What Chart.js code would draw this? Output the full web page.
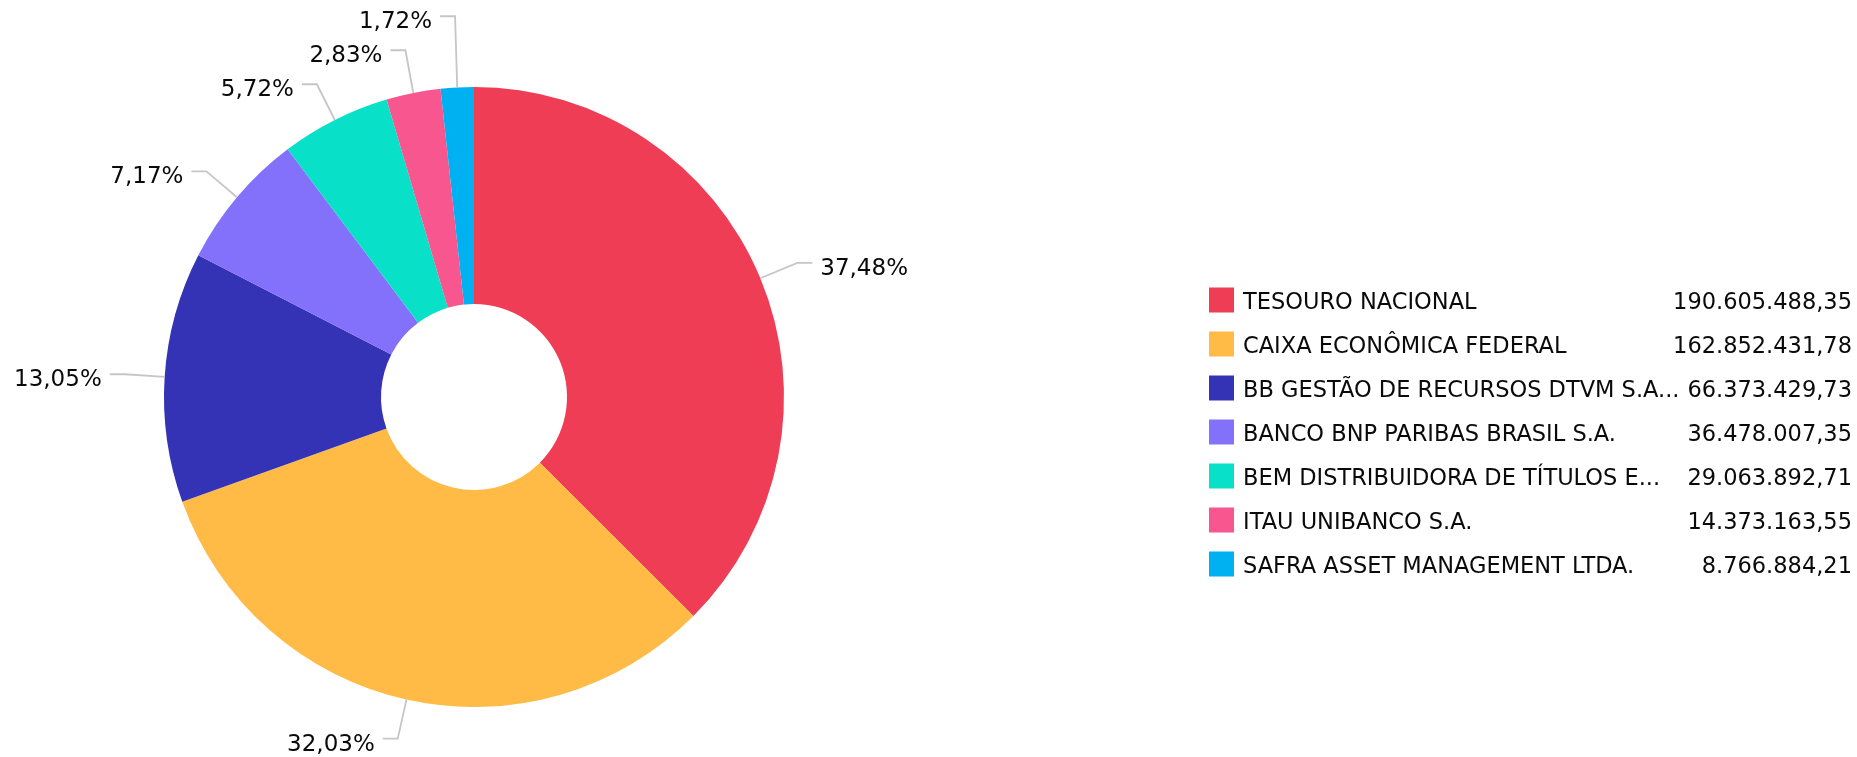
<!DOCTYPE html>
<html>
<head>
<meta charset="utf-8">
<script src="https://cdn.jsdelivr.net/npm/chart.js@4.4.1/dist/chart.umd.min.js"></script>
<style>
  html, body { margin: 0; padding: 0; background: #fff; }
  #wrap { position: relative; width: 1857px; height: 757px; }
</style>
</head>
<body>
<div id="wrap"><canvas id="carteiraChart"></canvas></div>
<script>
const categorias = [
    "TESOURO NACIONAL",
    "CAIXA ECONÔMICA FEDERAL",
    "BB GESTÃO DE RECURSOS DTVM S.A...",
    "BANCO BNP PARIBAS BRASIL S.A.",
    "BEM DISTRIBUIDORA DE TÍTULOS E...",
    "ITAU UNIBANCO S.A.",
    "SAFRA ASSET MANAGEMENT LTDA."
];
const valores = [190605488.35, 162852431.78, 66373429.73, 36478007.35, 29063892.71, 14373163.55, 8766884.21];
const cores = ["#EF3D55", "#FFBB45", "#3433B5", "#8370FB", "#08E0C8", "#F7568E", "#00B1F2"];

const fonte = '"DejaVu Sans", Verdana, sans-serif';

function formataValor(v) {
    const partes = v.toFixed(2).split('.');
    const inteiro = partes[0].replace(/\B(?=(\d{3})+(?!\d))/g, '.');
    return inteiro + ',' + partes[1];
}

function formataPct(v, total) {
    return (v / total * 100).toFixed(2).replace('.', ',') + '%';
}

// rotulos com linha de chamada
const rotulosPlugin = {
    id: 'rotulos',
    afterDatasetsDraw(chart) {
        const ctx = chart.ctx;
        const meta = chart.getDatasetMeta(0);
        const total = valores.reduce((a, b) => a + b, 0);

        const itens = meta.data.map((arc, i) => {
            const p = arc.getProps(['x', 'y', 'startAngle', 'endAngle', 'outerRadius'], true);
            const meio = (p.startAngle + p.endAngle) / 2;
            const cos = Math.cos(meio), sin = Math.sin(meio);
            return {
                i: i,
                lado: cos >= 0 ? 1 : -1,
                x0: p.x + cos * p.outerRadius,
                y0: p.y + sin * p.outerRadius,
                x1: p.x + cos * (p.outerRadius + 40),
                y1: p.y + sin * (p.outerRadius + 40)
            };
        });

        // evita sobreposicao: de baixo para cima em cada lado
        [-1, 1].forEach(lado => {
            const grupo = itens.filter(it => it.lado === lado).sort((a, b) => b.y1 - a.y1);
            for (let k = 1; k < grupo.length; k++) {
                const lim = grupo[k - 1].y1 - 34;
                if (grupo[k].y1 > lim) grupo[k].y1 = lim;
            }
        });

        ctx.save();
        ctx.strokeStyle = '#c6c6c6';
        ctx.lineWidth = 1.8;
        ctx.font = '23px ' + fonte;
        ctx.fillStyle = '#0a0a0a';
        ctx.textBaseline = 'alphabetic';
        itens.forEach(it => {
            const x2 = it.x1 + it.lado * 15;
            ctx.beginPath();
            ctx.moveTo(it.x0, it.y0);
            ctx.lineTo(it.x1, it.y1);
            ctx.lineTo(x2, it.y1);
            ctx.stroke();
            ctx.textAlign = it.lado > 0 ? 'left' : 'right';
            ctx.fillText(formataPct(valores[it.i], total), x2 + it.lado * 8, it.y1 + 12);
        });
        ctx.restore();
    }
};

// legenda com valores a direita
const legendaPlugin = {
    id: 'legendaValores',
    afterDraw(chart) {
        const ctx = chart.ctx;
        const xQuadro = 1209, lado = 25, xTexto = 1243, xValor = 1852;
        const yInicio = 300, passo = 44;
        ctx.save();
        ctx.font = '22.5px ' + fonte;
        ctx.textBaseline = 'alphabetic';
        categorias.forEach((nome, i) => {
            const yc = yInicio + i * passo;
            ctx.fillStyle = cores[i];
            ctx.fillRect(xQuadro, yc - lado / 2, lado, lado);
            ctx.fillStyle = '#0a0a0a';
            ctx.textAlign = 'left';
            ctx.fillText(nome, xTexto, yc + 9);
            ctx.textAlign = 'right';
            ctx.fillText(formataValor(valores[i]), xValor, yc + 9);
        });
        ctx.restore();
    }
};

const ctx = document.getElementById('carteiraChart').getContext('2d');
window.carteiraChart = new Chart(ctx, {
    type: 'doughnut',
    data: {
        labels: categorias,
        datasets: [{
            data: valores,
            backgroundColor: cores,
            borderWidth: 0
        }]
    },
    options: {
        responsive: true,
        maintainAspectRatio: false,
        animation: false,
        cutout: '30%',
        layout: { padding: { left: 164, right: 1073, top: 87, bottom: 50 } },
        plugins: {
            legend: { display: false },
            tooltip: { enabled: false }
        }
    },
    plugins: [rotulosPlugin, legendaPlugin]
});
</script>
</body>
</html>
